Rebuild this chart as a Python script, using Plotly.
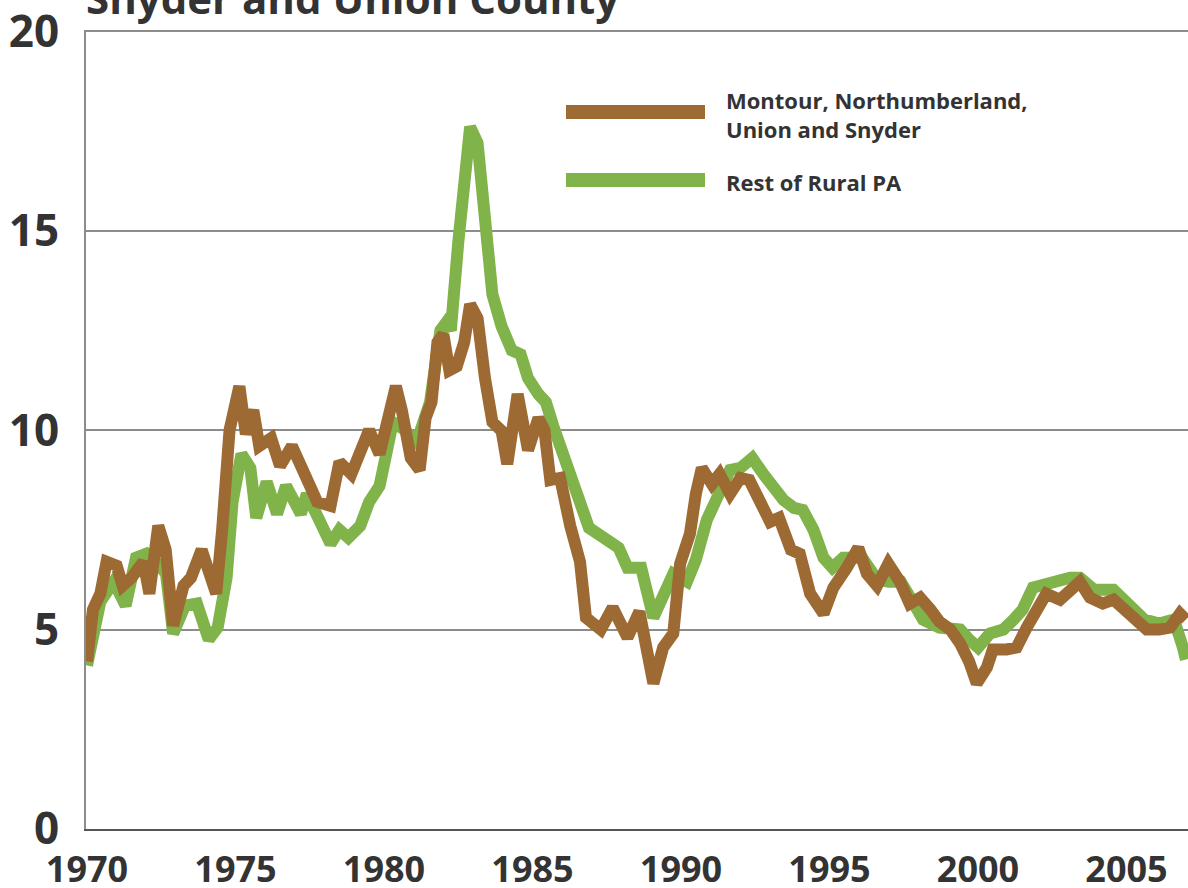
import plotly.graph_objects as go

# ==========================================
# DATA (unemployment rate %)
# ==========================================
MNUS_YEARS = [
    1970.0, 1970.2, 1970.45, 1970.66, 1971.0, 1971.2, 1971.5, 1971.9, 1972.1, 1972.4,
    1972.65, 1972.9, 1973.25, 1973.5, 1973.86, 1974.1, 1974.35, 1974.55, 1974.8, 1975.13,
    1975.35, 1975.6, 1975.8, 1976.2, 1976.5, 1976.9, 1977.2, 1977.5, 1977.75, 1978.2,
    1978.5, 1978.9, 1979.5, 1979.85, 1980.4, 1980.6, 1980.9, 1981.2, 1981.4, 1981.6,
    1981.8, 1982.0, 1982.2, 1982.45, 1982.7, 1982.9, 1983.15, 1983.4, 1983.65, 1983.96,
    1984.15, 1984.5, 1984.85, 1985.2, 1985.4, 1985.6, 1985.93, 1986.27, 1986.6, 1986.8,
    1987.3, 1987.7, 1988.2, 1988.6, 1988.8, 1989.07, 1989.4, 1989.74, 1989.97, 1990.3,
    1990.5, 1990.7, 1991.04, 1991.3, 1991.65, 1992.0, 1992.3, 1992.66, 1993.0, 1993.3,
    1993.7, 1994.0, 1994.35, 1994.8, 1995.13, 1995.58, 1995.97, 1996.26, 1996.6, 1996.98,
    1997.37, 1997.7, 1998.05, 1998.4, 1998.7, 1999.07, 1999.4, 1999.7, 1999.96, 2000.3,
    2000.5, 2000.96, 2001.3, 2001.64, 2001.97, 2002.3, 2002.76, 2003.1, 2003.43, 2003.77,
    2004.2, 2004.56, 2004.9, 2005.23, 2005.68, 2006.1, 2006.47, 2006.8, 2007.0,
]
MNUS_RATE = [
    4.2, 5.5, 5.9, 6.7, 6.6, 6.1, 6.3, 6.7, 5.9, 7.6,
    7.0, 5.1, 6.1, 6.3, 7.0, 6.4, 5.9, 7.5, 10.0, 11.1,
    9.9, 10.5, 9.6, 9.8, 9.1, 9.6, 9.1, 8.7, 8.2, 8.1,
    9.2, 8.9, 10.0, 9.4, 11.1, 10.5, 9.3, 9.0, 10.3, 10.7,
    12.2, 12.4, 11.5, 11.6, 12.2, 13.15, 12.8, 11.3, 10.2, 9.98,
    9.15, 10.9, 9.5, 10.3, 10.0, 8.75, 8.8, 7.6, 6.7, 5.3,
    5.0, 5.55, 4.8, 5.45, 4.8, 3.65, 4.55, 4.9, 6.65, 7.4,
    8.4, 9.05, 8.65, 8.9, 8.4, 8.8, 8.75, 8.2, 7.7, 7.8,
    7.0, 6.9, 5.9, 5.4, 6.05, 6.55, 7.05, 6.4, 6.1, 6.65,
    6.2, 5.65, 5.8, 5.5, 5.2, 5.0, 4.65, 4.2, 3.65, 4.05,
    4.5, 4.5, 4.55, 5.05, 5.5, 5.9, 5.75, 6.0, 6.2, 5.8,
    5.65, 5.75, 5.5, 5.25, 5.0, 5.0, 5.05, 5.4, 5.25,
]

RURAL_YEARS = [
    1970.0, 1970.45, 1970.9, 1971.3, 1971.65, 1972.0, 1972.45, 1972.66, 1972.9, 1973.3,
    1973.7, 1974.1, 1974.4, 1974.7, 1974.9, 1975.2, 1975.5, 1975.7, 1976.05, 1976.4,
    1976.7, 1977.2, 1977.4, 1977.85, 1978.2, 1978.5, 1978.8, 1979.2, 1979.5, 1979.85,
    1980.3, 1980.7, 1981.1, 1981.55, 1981.9, 1982.1, 1982.25, 1982.5, 1982.7, 1982.9,
    1983.15, 1983.4, 1983.65, 1983.96, 1984.3, 1984.6, 1984.85, 1985.2, 1985.45, 1985.7,
    1986.0, 1986.27, 1986.6, 1986.9, 1987.4, 1987.9, 1988.2, 1988.66, 1989.07, 1989.4,
    1989.74, 1990.2, 1990.5, 1990.87, 1991.2, 1991.65, 1992.0, 1992.4, 1992.77, 1993.1,
    1993.45, 1993.8, 1994.1, 1994.46, 1994.8, 1995.1, 1995.46, 1996.1, 1996.6, 1997.0,
    1997.4, 1997.8, 1998.15, 1998.7, 1999.4, 1999.7, 2000.0, 2000.4, 2000.85, 2001.2,
    2001.5, 2001.85, 2002.3, 2002.76, 2003.1, 2003.43, 2003.9, 2004.56, 2005.0, 2005.6,
    2006.1, 2006.6, 2006.9, 2007.0,
]
RURAL_RATE = [
    4.1, 5.7, 6.2, 5.6, 6.8, 6.9, 6.6, 6.4, 4.9, 5.6,
    5.65, 4.75, 5.05, 6.3, 8.2, 9.4, 9.05, 7.8, 8.7, 7.9,
    8.6, 7.9, 8.4, 7.7, 7.15, 7.5, 7.3, 7.6, 8.2, 8.6,
    10.2, 10.0, 9.7, 10.7, 12.5, 12.7, 12.5, 14.7, 16.3, 17.6,
    17.2, 15.2, 13.4, 12.6, 12.0, 11.9, 11.3, 10.9, 10.7, 10.1,
    9.5, 9.0, 8.3, 7.55, 7.3, 7.05, 6.55, 6.55, 5.3, 5.8,
    6.4, 6.2, 6.75, 7.75, 8.3, 9.0, 9.05, 9.3, 8.9, 8.55,
    8.25, 8.05, 8.0, 7.5, 6.8, 6.55, 6.8, 6.8, 6.25, 6.2,
    6.2, 5.7, 5.25, 5.05, 5.0, 4.75, 4.55, 4.9, 5.0, 5.25,
    5.5, 6.05, 6.15, 6.25, 6.3, 6.3, 6.0, 6.0, 5.65, 5.25,
    5.15, 5.25, 4.55, 4.25,
]

X_TICKS = [1970, 1975, 1980, 1985, 1990, 1995, 2000, 2005]
Y_TICKS = [0, 5, 10, 15, 20]

SERIES_NAMES = ["Montour, Northumberland,<br>Union and Snyder", "Rest of Rural PA"]

BROWN = "#9d6a33"
GREEN = "#80b34a"
TEXT = "#333333"
FONT = "Open Sans"

# plot area in pixels (page is 1188 x 888)
L, R, T, B = 86, 1188, 30, 829
W, H = R - L, B - T


def px_x(px):
    return (px - L) / W


def px_y(py):
    return (B - py) / H


fig = go.Figure()

# green first so the brown line sits on top
fig.add_trace(go.Scatter(
    x=RURAL_YEARS, y=RURAL_RATE, mode="lines", name=SERIES_NAMES[1],
    line=dict(color=GREEN, width=12), showlegend=False,
))
fig.add_trace(go.Scatter(
    x=MNUS_YEARS, y=MNUS_RATE, mode="lines", name=SERIES_NAMES[0],
    line=dict(color=BROWN, width=12), showlegend=False,
))

# --- hand-drawn legend ---
legend_rows = [(SERIES_NAMES[0], BROWN, 112), (SERIES_NAMES[1], GREEN, 180)]
for _, color, yy in legend_rows:
    fig.add_shape(type="line", xref="paper", yref="paper",
                  x0=px_x(566), x1=px_x(705), y0=px_y(yy), y1=px_y(yy),
                  line=dict(color=color, width=14))

legend_text = [("Montour, Northumberland,", 100), ("Union and Snyder", 129),
               ("Rest of Rural PA", 182)]
for txt, yy in legend_text:
    fig.add_annotation(text=txt, xref="paper", yref="paper",
                       x=px_x(724), y=px_y(yy), xanchor="left", yanchor="middle",
                       showarrow=False,
                       font=dict(family=FONT, size=22, color=TEXT, weight=700))

# title, cut off by the top of the page like in the source
fig.add_annotation(text="Snyder and Union County", xref="paper", yref="paper",
                   x=px_x(84), y=px_y(28), xanchor="left", yanchor="bottom",
                   showarrow=False,
                   font=dict(family=FONT, size=42, color=TEXT, weight=700))

fig.update_layout(
    width=1188, height=888,
    margin=dict(l=L, r=1188 - R, t=T, b=888 - B, pad=0, autoexpand=False),
    paper_bgcolor="white", plot_bgcolor="white",
    showlegend=False,
    font=dict(family=FONT, color=TEXT),
)

fig.update_xaxes(
    range=[1970 - 1 / 29.7, 1970 + (R - 1 - L) / 29.7],
    tickvals=X_TICKS, ticktext=[str(v) for v in X_TICKS],
    showgrid=False, zeroline=False, automargin=False,
    showline=True, linecolor="#555555", linewidth=2,
    ticks="", ticklabelstandoff=8, ticklabeloverflow="allow",
    tickfont=dict(family=FONT, size=36, color=TEXT, weight=700),
)
fig.update_yaxes(
    range=[0, 20.03],
    tickvals=Y_TICKS, ticktext=[str(v) for v in Y_TICKS],
    showgrid=True, gridcolor="#8c8c8c", gridwidth=2,
    zeroline=False, automargin=False,
    showline=True, linecolor="#8c8c8c", linewidth=2,
    ticks="", ticklabelstandoff=16, ticklabeloverflow="allow",
    tickfont=dict(family=FONT, size=44, color=TEXT, weight=700),
)

# page body has an 8px default margin; drop it so the figure fills the window
fig.write_html("out.html", config={"displayModeBar": False},
               post_script="document.body.style.margin = '0';")
